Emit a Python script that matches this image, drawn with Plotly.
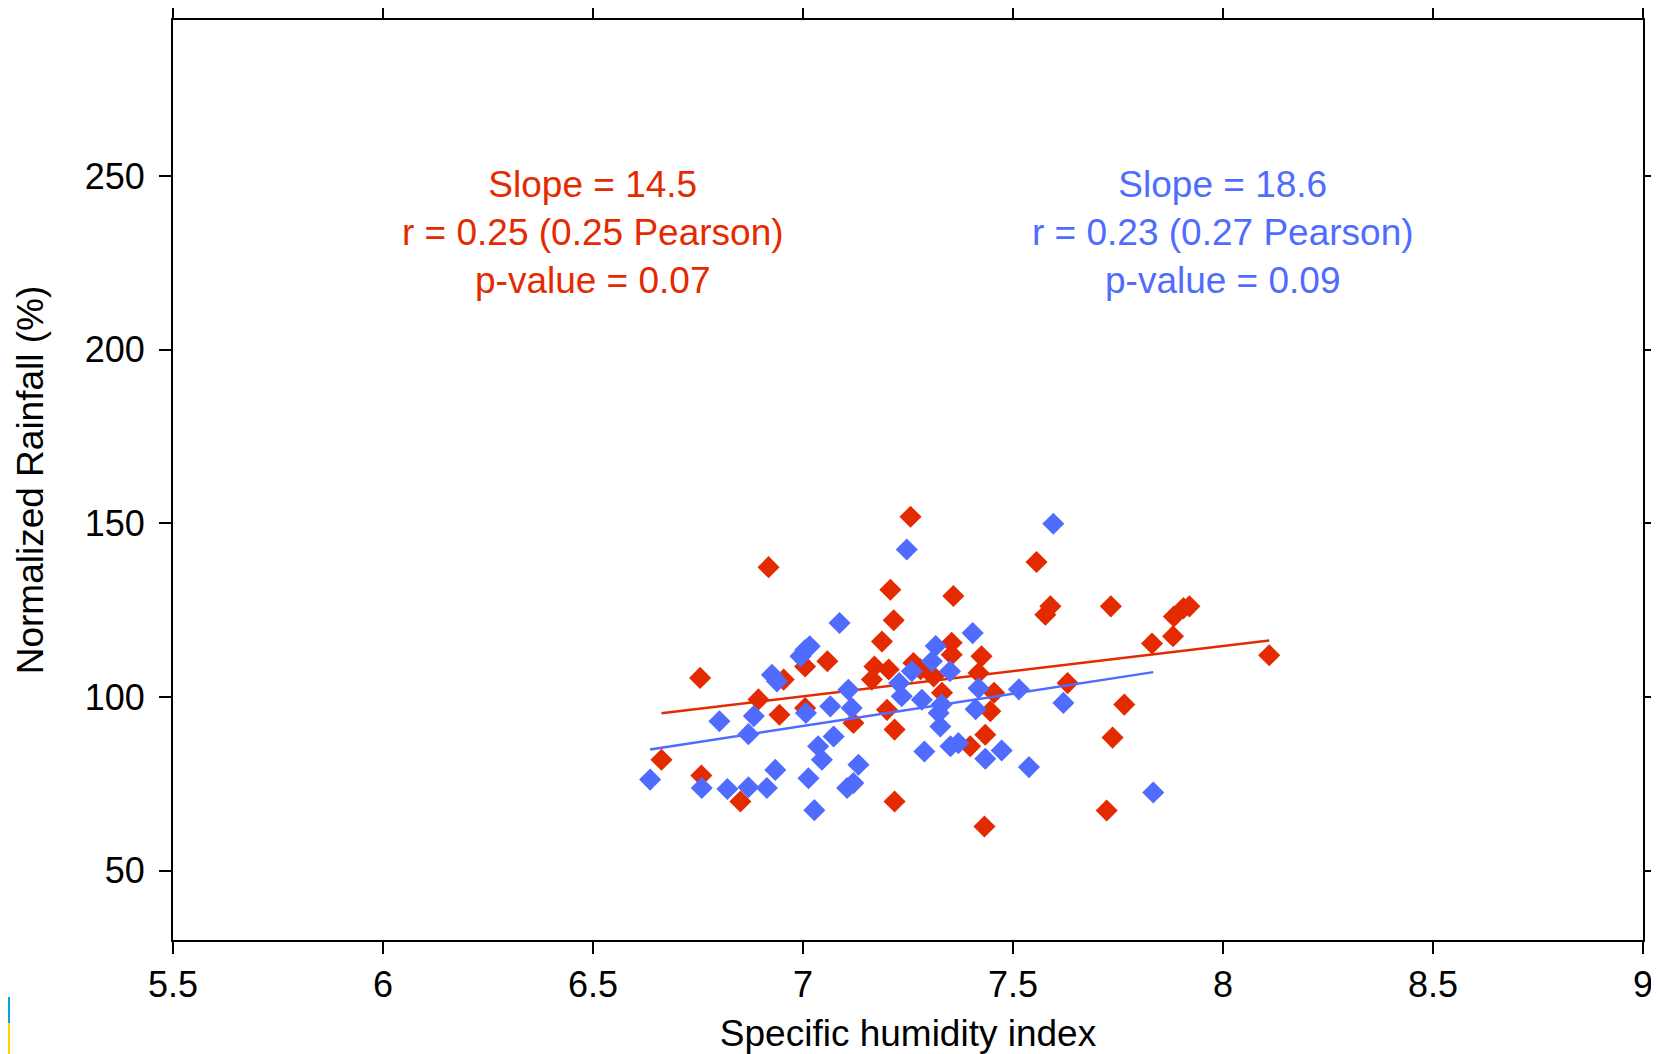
import plotly.graph_objects as go

# ---- data ----
red_x = [6.663, 6.755, 6.758, 6.851, 6.894, 6.918, 6.944, 6.954, 7.005, 7.005,
         7.058, 7.120, 7.164, 7.170, 7.188, 7.200, 7.204, 7.208, 7.216, 7.218,
         7.218, 7.256, 7.263, 7.280, 7.311, 7.331, 7.354, 7.354, 7.358, 7.398,
         7.418, 7.425, 7.434, 7.432, 7.446, 7.455, 7.556, 7.577, 7.589, 7.630,
         7.723, 7.733, 7.737, 7.765, 7.831, 7.881, 7.883, 7.906, 7.920, 8.110]
red_y = [81.9, 105.5, 77.4, 69.9, 99.3, 137.4, 94.9, 105.0, 108.8, 96.8,
         110.3, 92.5, 105.0, 108.8, 116.0, 96.3, 107.9, 130.9, 122.1, 90.6,
         69.9, 151.9, 109.8, 108.0, 105.9, 101.2, 115.6, 112.2, 129.1, 85.8,
         106.9, 111.7, 89.1, 62.7, 95.9, 101.2, 138.9, 123.7, 126.1, 104.0,
         67.3, 126.1, 88.3, 97.8, 115.4, 117.5, 123.2, 125.6, 126.1, 112.0]

blue_x = [6.636, 6.759, 6.801, 6.820, 6.870, 6.870, 6.883, 6.914, 6.926, 6.934,
          6.938, 6.994, 7.005, 7.016, 7.007, 7.013, 7.027, 7.036, 7.045, 7.065,
          7.073, 7.087, 7.105, 7.108, 7.116, 7.120, 7.132, 7.229, 7.235, 7.247,
          7.259, 7.283, 7.289, 7.307, 7.316, 7.323, 7.327, 7.330, 7.350, 7.351,
          7.370, 7.404, 7.411, 7.418, 7.434, 7.473, 7.514, 7.538, 7.596, 7.620,
          7.834]
blue_y = [76.2, 73.8, 93.0, 73.5, 74.0, 89.3, 94.5, 73.8, 106.4, 79.0,
          104.5, 111.7, 113.5, 114.6, 95.4, 76.6, 67.4, 85.8, 81.9, 97.3,
          88.6, 121.3, 73.8, 102.1, 96.8, 75.2, 80.5, 104.0, 100.2, 142.5,
          107.4, 99.2, 84.3, 110.3, 114.7, 95.4, 91.5, 97.8, 107.4, 85.8,
          86.7, 118.4, 96.5, 102.5, 82.2, 84.6, 102.2, 79.8, 149.9, 98.3,
          72.5]

red_slope, red_intercept = 14.5, -1.3
blue_slope, blue_intercept = 18.6, -38.55

red_label = ["Slope = 14.5", "r = 0.25 (0.25 Pearson)", "p-value = 0.07"]
blue_label = ["Slope = 18.6", "r = 0.23 (0.27 Pearson)", "p-value = 0.09"]
red_label_pos = (6.5, 233.8)
blue_label_pos = (8.0, 233.8)

x_ticks = [5.5, 6, 6.5, 7, 7.5, 8, 8.5, 9]
x_ticktext = ["5.5", "6", "6.5", "7", "7.5", "8", "8.5", "9"]
y_ticks = [50, 100, 150, 200, 250]

RED = "#E42A00"
BLUE = "#506CFF"
FONT = "Liberation Sans, Arial, Helvetica, sans-serif"

def fit_line(xs, slope, intercept):
    x0, x1 = min(xs), max(xs)
    return [x0, x1], [slope * x0 + intercept, slope * x1 + intercept]

fig = go.Figure()
fig.add_trace(go.Scatter(x=red_x, y=red_y, mode="markers",
                         marker=dict(symbol="diamond", size=17, color=RED, line=dict(width=0)),
                         showlegend=False))
rx, ry = fit_line(red_x, red_slope, red_intercept)
fig.add_trace(go.Scatter(x=rx, y=ry, mode="lines", line=dict(color=RED, width=2.5),
                         showlegend=False))
fig.add_trace(go.Scatter(x=blue_x, y=blue_y, mode="markers",
                         marker=dict(symbol="diamond", size=17, color=BLUE, line=dict(width=0)),
                         showlegend=False))
bx, by = fit_line(blue_x, blue_slope, blue_intercept)
fig.add_trace(go.Scatter(x=bx, y=by, mode="lines", line=dict(color=BLUE, width=2.5),
                         showlegend=False))

for lbl, pos, col in [(red_label, red_label_pos, RED), (blue_label, blue_label_pos, BLUE)]:
    fig.add_annotation(x=pos[0], y=pos[1], xref="x", yref="y",
                       text="<br>".join(lbl), showarrow=False,
                       font=dict(family=FONT, size=37, color=col),
                       xanchor="center", yanchor="middle", align="center")

axis_common = dict(showline=True, linecolor="black", linewidth=2, mirror="allticks",
                   ticks="outside", ticklen=12, tickwidth=2, tickcolor="black",
                   showgrid=False, zeroline=False, automargin=False,
                   tickfont=dict(family=FONT, size=36, color="black"))

fig.update_xaxes(range=[5.5, 9], tickvals=x_ticks, ticktext=x_ticktext,
                 ticklabelstandoff=0,
                 title=dict(text="Specific humidity index",
                            font=dict(family=FONT, size=37, color="black"), standoff=18),
                 **axis_common)
fig.update_yaxes(range=[30, 295], tickvals=y_ticks, ticklabelstandoff=7,
                 title=dict(text="Normalized Rainfall (%)",
                            font=dict(family=FONT, size=37, color="black"), standoff=30),
                 **axis_common)

# figure sized to fill the page after its 8px body margin
W, H = 1651, 1046
ML, MR, MT, MB = 165, 16, 12, 114
pw, ph = W - ML - MR, H - MT - MB
def px_x(p): return (p - 8 - ML) / pw
def px_y(p): return (H - MB - (p - 8)) / ph
# small coloured marks at the bottom-left corner of the image
fig.add_shape(type="rect", xref="paper", yref="paper", x0=px_x(0), x1=px_x(10),
              y0=px_y(1023), y1=px_y(997), fillcolor="#00A6DD", line=dict(width=0))
fig.add_shape(type="rect", xref="paper", yref="paper", x0=px_x(0), x1=px_x(10),
              y0=px_y(1054), y1=px_y(1023), fillcolor="#FFD200", line=dict(width=0))

fig.update_layout(width=W, height=H, plot_bgcolor="white", paper_bgcolor="white",
                  margin=dict(l=ML, r=MR, t=MT, b=MB), showlegend=False)

fig.write_html("out.html")
